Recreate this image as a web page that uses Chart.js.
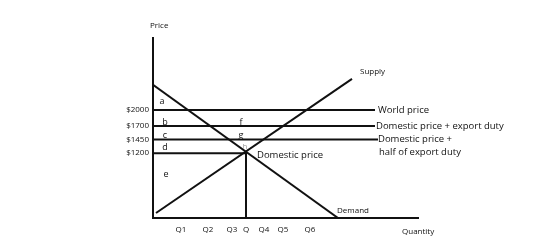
<!DOCTYPE html>
<html>
<head>
<meta charset="utf-8">
<script src="https://cdn.jsdelivr.net/npm/chart.js@4.4.1/dist/chart.umd.min.js"></script>
<style>
  html, body { margin: 0; padding: 0; background: #fff; }
  #wrap { width: 560px; height: 244px; }
</style>
</head>
<body>
<div id="wrap"><canvas id="export-duty-chart"></canvas></div>
<script>
// price ticks and quantity ticks
const price_ticks = [2000, 1700, 1450, 1200];
const qty_ticks = [2.8, 5.5, 7.9, 9.3, 11.1, 13.0, 15.7];
const qty_labels = ['Q1', 'Q2', 'Q3', 'Q', 'Q4', 'Q5', 'Q6'];

// curve endpoints (quantity, price)
const demand = [{ x: 0, y: 2463 }, { x: 18.5, y: 0 }];
const supply = [{ x: 0.3, y: 93 }, { x: 19.9, y: 2574 }];
const world_price = [{ x: 0, y: 2000 }, { x: 22.2, y: 2000 }];
const duty_price = [{ x: 0, y: 1700 }, { x: 22.2, y: 1700 }];
const half_duty_price = [{ x: 0, y: 1450 }, { x: 22.5, y: 1450 }];
const domestic_price = [{ x: 0, y: 1200 }, { x: 9.3, y: 1200 }];
const q_drop = [{ x: 9.3, y: 1230 }, { x: 9.3, y: 0 }];

// text notes placed in data units
const notes = [
  { text: 'a', x: 0.9, y: 2150, size: 9 },
  { text: 'b', x: 1.2, y: 1760, size: 9 },
  { text: 'c', x: 1.2, y: 1535, size: 9 },
  { text: 'd', x: 1.2, y: 1300, size: 9 },
  { text: 'e', x: 1.3, y: 815, size: 9 },
  { text: 'f', x: 8.8, y: 1775, size: 9 },
  { text: 'g', x: 8.8, y: 1535, size: 9 },
  { text: 'h', x: 9.2, y: 1315, size: 8, color: '#999' },
  { text: 'Domestic price', x: 10.4, y: 1165, size: 9.5, align: 'left' },
  { text: 'Supply', x: 20.7, y: 2700, size: 8, align: 'left' },
  { text: 'Demand', x: 18.4, y: 130, size: 8, align: 'left' },
  { text: 'World price', x: 22.5, y: 2000, size: 9.5, align: 'left' },
  { text: 'Domestic price + export duty', x: 22.3, y: 1700, size: 9.5, align: 'left' },
  { text: 'Domestic price +', x: 22.5, y: 1450, size: 9.5, align: 'left' },
  { text: 'half of export duty', x: 22.6, y: 1210, size: 9.5, align: 'left' },
  { text: 'Quantity', x: 24.9, y: -260, size: 8, align: 'left' },
  { text: 'Price', x: -0.3, y: 3560, size: 8, align: 'left' }
];

const FONT = '"Open Sans", "Noto Sans", sans-serif';
const INK = '#111';

const line_ds = (data) => ({
  data,
  borderColor: INK,
  borderWidth: 2,
  pointRadius: 0,
  fill: false,
  tension: 0
});

const notes_plugin = {
  id: 'notes',
  afterDatasetsDraw(chart) {
    const { ctx } = chart;
    const xs = chart.scales.x;
    const ys = chart.scales.y;
    ctx.save();
    notes.forEach((n) => {
      ctx.font = `${n.size}px ${FONT}`;
      ctx.fillStyle = n.color || INK;
      ctx.textAlign = n.align || 'center';
      ctx.textBaseline = 'middle';
      ctx.fillText(n.text, xs.getPixelForValue(n.x), ys.getPixelForValue(n.y));
    });
    ctx.restore();
  }
};

const ctx = document.getElementById('export-duty-chart').getContext('2d');
const chart = new Chart(ctx, {
  type: 'line',
  data: {
    datasets: [
      line_ds(demand),
      line_ds(supply),
      line_ds(world_price),
      line_ds(duty_price),
      line_ds(half_duty_price),
      line_ds(domestic_price),
      line_ds(q_drop)
    ]
  },
  options: {
    responsive: true,
    maintainAspectRatio: false,
    animation: false,
    layout: { padding: { left: 123, right: 142, top: 38, bottom: 6 } },
    plugins: {
      legend: { display: false },
      tooltip: { enabled: false }
    },
    scales: {
      x: {
        type: 'linear',
        min: 0,
        max: 26.5,
        grid: { display: false, drawTicks: false },
        border: { display: true, color: INK, width: 2 },
        afterFit: (scale) => { scale.height = 20; },
        afterBuildTicks: (scale) => { scale.ticks = qty_ticks.map((v) => ({ value: v })); },
        ticks: {
          padding: 7,
          maxRotation: 0,
          autoSkip: false,
          color: INK,
          font: { family: FONT, size: 8 },
          callback: (v, i) => qty_labels[i]
        }
      },
      y: {
        type: 'linear',
        min: 0,
        max: 3330,
        grid: { display: false, drawTicks: false },
        border: { display: true, color: INK, width: 2 },
        afterFit: (scale) => { scale.width = 30; },
        afterBuildTicks: (scale) => { scale.ticks = price_ticks.map((v) => ({ value: v })); },
        ticks: {
          padding: 4,
          autoSkip: false,
          color: INK,
          font: { family: FONT, size: 8 },
          callback: (v) => `$${v}`
        }
      }
    }
  },
  plugins: [notes_plugin]
});
</script>
</body>
</html>
